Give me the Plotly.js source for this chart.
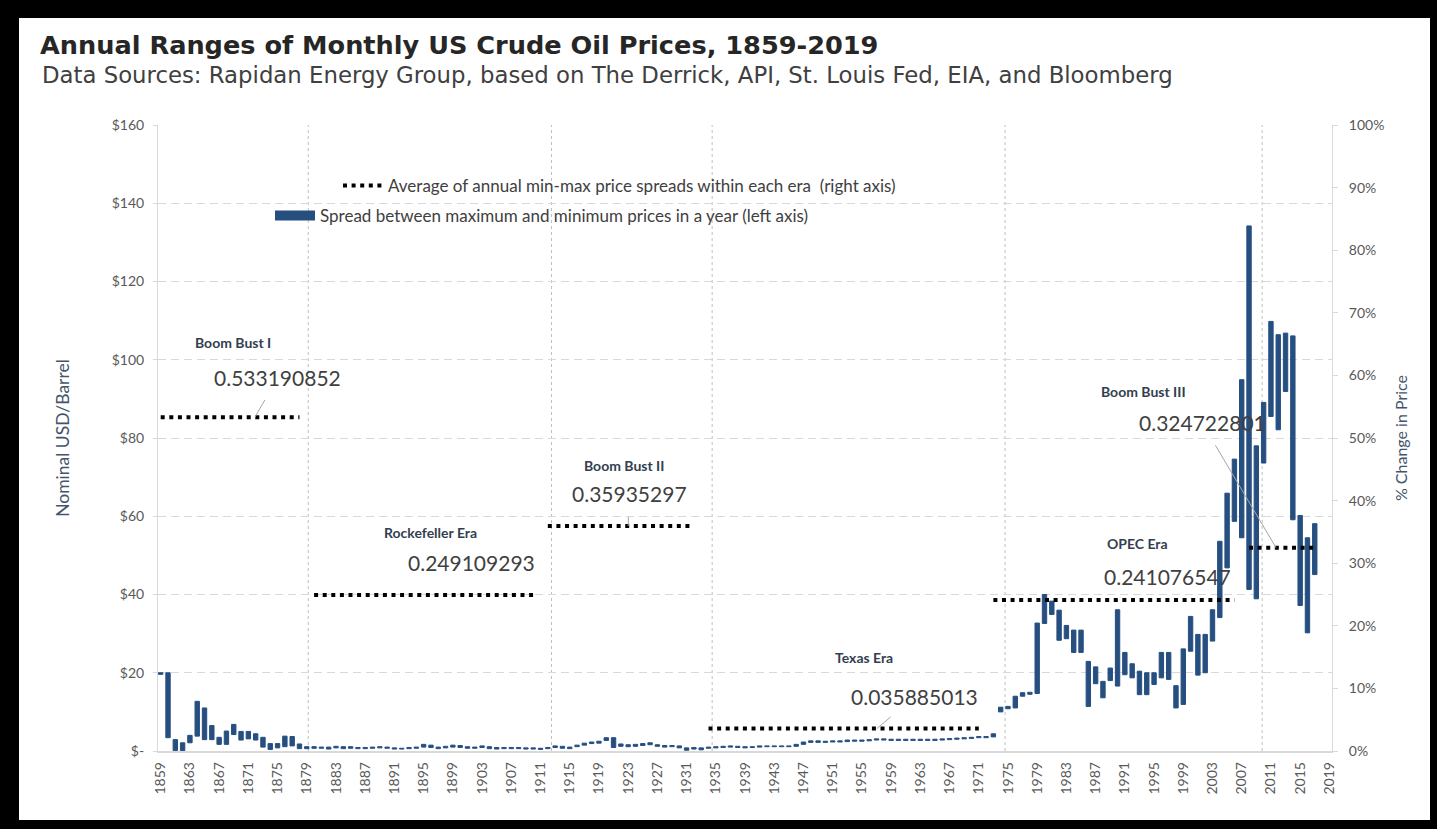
<!DOCTYPE html>
<html><head><meta charset="utf-8">
<script src="https://cdn.plot.ly/plotly-3.0.1.min.js"></script>
<style>
html,body{margin:0;padding:0;background:#000;width:1437px;height:829px;overflow:hidden}
#panel{position:absolute;left:19px;top:18px;width:1411px;height:802px;background:#fff}
#chart{position:absolute;left:0;top:0;width:1437px;height:829px}
</style></head><body>
<div id="panel"></div>
<div id="chart"></div>
<script>
// ---- DATA ----
const years = [
1859,1860,1861,1862,1863,1864,1865,1866,1867,1868,1869,1870,1871,1872,1873,1874,1875,1876,1877,1878,
1879,1880,1881,1882,1883,1884,1885,1886,1887,1888,1889,1890,1891,1892,1893,1894,1895,1896,1897,1898,
1899,1900,1901,1902,1903,1904,1905,1906,1907,1908,1909,1910,1911,1912,1913,1914,1915,1916,1917,1918,
1919,1920,1921,1922,1923,1924,1925,1926,1927,1928,1929,1930,1931,1932,1933,1934,1935,1936,1937,1938,
1939,1940,1941,1942,1943,1944,1945,1946,1947,1948,1949,1950,1951,1952,1953,1954,1955,1956,1957,1958,
1959,1960,1961,1962,1963,1964,1965,1966,1967,1968,1969,1970,1971,1972,1973,1974,1975,1976,1977,1978,
1979,1980,1981,1982,1983,1984,1985,1986,1987,1988,1989,1990,1991,1992,1993,1994,1995,1996,1997,1998,
1999,2000,2001,2002,2003,2004,2005,2006,2007,2008,2009,2010,2011,2012,2013,2014,2015,2016,2017,2018,
2019];

// monthly minimum price within each year (USD/barrel)
const minPrice = [
19.6,3.4,0.1,0.1,2.1,3.8,2.9,2.9,1.7,1.7,4.2,2.8,3.1,2.8,1.0,0.4,0.8,1.1,1.3,0.6,
0.6,0.7,0.7,0.5,0.8,0.6,0.7,0.6,0.6,0.7,0.8,0.7,0.5,0.5,0.6,0.7,1.0,0.9,0.6,0.8,
1.0,0.9,0.7,0.7,0.9,0.6,0.5,0.6,0.6,0.6,0.5,0.5,0.4,0.6,0.9,0.7,0.6,1.1,1.5,1.9,
2.0,2.7,0.9,1.2,1.1,1.2,1.4,1.6,1.2,1.0,1.1,0.8,0.2,0.5,0.3,0.7,0.8,0.9,1.0,0.9,
0.8,0.9,1.0,1.1,1.1,1.1,1.1,1.2,1.7,2.2,2.2,2.2,2.3,2.3,2.4,2.5,2.5,2.6,2.8,2.8,
2.7,2.7,2.7,2.7,2.7,2.7,2.7,2.8,2.9,3.0,3.1,3.2,3.4,3.4,3.6,10.0,10.8,11.0,14.0,14.5,
14.7,32.6,34.9,28.3,28.7,25.2,25.2,11.4,17.2,13.6,18.0,16.6,19.5,18.7,14.4,14.4,17.0,18.7,18.3,11.0,
11.9,25.5,19.4,20.0,28.1,34.1,46.8,58.7,54.5,41.3,38.9,73.6,85.5,82.1,91.9,59.1,37.2,30.2,45.1,null,
null];

// monthly maximum price within each year (USD/barrel)
const maxPrice = [
20.0,20.0,2.9,2.1,4.0,12.7,11.0,6.5,3.5,5.1,6.8,5.0,5.0,4.4,3.5,1.9,1.9,3.8,3.7,1.8,
1.1,1.1,1.0,1.0,1.2,1.1,1.1,0.9,0.9,1.0,1.1,1.0,0.8,0.7,0.9,1.0,1.7,1.5,1.0,1.2,
1.5,1.4,1.1,1.0,1.3,1.1,0.9,0.9,0.9,0.9,0.8,0.8,0.7,0.9,1.3,1.2,1.0,1.5,2.0,2.3,
2.5,3.4,3.4,1.8,1.6,1.7,1.9,2.1,1.6,1.4,1.4,1.3,0.8,0.9,0.8,1.0,1.1,1.2,1.3,1.2,
1.1,1.1,1.3,1.3,1.3,1.3,1.3,1.7,2.3,2.6,2.6,2.5,2.6,2.6,2.8,2.8,2.8,2.9,3.1,3.1,
3.0,3.0,3.0,3.0,3.0,3.0,3.0,3.1,3.2,3.3,3.4,3.5,3.7,3.7,4.4,11.2,11.4,14.0,14.9,15.0,
32.7,40.0,38.3,36.0,32.1,30.9,30.9,22.9,21.5,17.8,21.2,36.1,25.2,22.3,20.4,20.0,20.0,25.2,25.2,16.7,
26.1,34.4,29.8,29.8,36.1,53.6,65.9,74.6,94.9,134.2,78.0,89.1,109.8,106.4,106.8,106.1,60.2,54.5,58.1,null,
null];

// eras: average of annual min-max % spreads (right axis)
const eraNames = ["Boom Bust I","Rockefeller Era","Boom Bust II","Texas Era","OPEC Era","Boom Bust III"];
const eraStart = [1859,1880,1912,1934,1973,2008];
const eraEnd   = [1878,1910,1932,1971,2006,2017];
const eraAvg   = [0.533190852,0.249109293,0.35935297,0.035885013,0.241076547,0.324722801];
const eraDividers = [1879.2,1912.5,1934.5,1974.6,2009.8];

const leftTickVals = [0,20,40,60,80,100,120,140,160];
const leftTickText = ["$-","$20","$40","$60","$80","$100","$120","$140","$160"];
const xTickVals = years.filter((y,i)=> i % 4 === 0);

const seriesBarName = "Spread between maximum and minimum prices in a year (left axis)";
const seriesEraName = "Average of annual min-max price spreads within each era  (right axis)";

// ---- TRACES ----
const BLUE = '#264F80';
const FONT = 'Lato, "Open Sans", sans-serif';
const spread = maxPrice.map((v,i)=> (v==null||minPrice[i]==null) ? null : +(v - minPrice[i]).toFixed(2));

const traces = [];
traces.push({
  type:'bar', x: years, y: spread, base: minPrice, name: seriesBarName,
  marker:{color: BLUE, line:{color: BLUE, width:1}}, width: 0.6,
  showlegend:false, hoverinfo:'x+y'
});
// legend key for the bar series (same colour, drawn as a wide flat key like the original)
traces.push({
  type:'scatter', mode:'lines', x:[null], y:[null], name: seriesBarName,
  line:{color: BLUE, width:10}, legend:'legend2', showlegend:true, hoverinfo:'skip'
});
eraNames.forEach((n,i)=>{
  traces.push({
    type:'scatter', mode:'lines', x:[eraStart[i], eraEnd[i]], y:[eraAvg[i], eraAvg[i]],
    yaxis:'y2', name: seriesEraName, legendgroup:'era', showlegend: i===0,
    line:{color:'#000', width:4, dash:'4px,4.6px'}, hoverinfo:'skip'
  });
});

// ---- ANNOTATIONS ----
const nameLayout = [
  {x:1868.9, y:0.652},{x:1896.0, y:0.349},{x:1922.4, y:0.456},
  {x:1955.3, y:0.149},{x:1992.7, y:0.331},{x:1993.5, y:0.574}
];
const valueLayout = [
  {hx:1871.9, ax:23, ay:-40, arrow:true},
  {hx:1901.6, ax:0, ay:-33, arrow:false},
  {hx:1923.0, ax:1, ay:-33, arrow:true},
  {hx:1957.05, ax:38, ay:-32, arrow:true},
  {hx:1995.8, ax:8, ay:-24, arrow:true},
  {hx:2011.7, ax:-74, ay:-125, arrow:true}
];
const annotations = [];
eraNames.forEach((n,i)=>{
  annotations.push({text:'<b>'+n+'</b>', x:nameLayout[i].x, y:nameLayout[i].y, xref:'x', yref:'y2',
    showarrow:false, font:{family:FONT, size:14, color:'#333F50'}});
  const v = valueLayout[i];
  annotations.push({text:String(eraAvg[i]), x:v.hx, y:eraAvg[i], xref:'x', yref:'y2',
    showarrow:true, arrowhead:0, arrowwidth:1, arrowcolor: v.arrow ? '#A6A6A6' : 'rgba(0,0,0,0)',
    ax:v.ax, ay:v.ay, startstandoff:10, standoff:0,
    font:{family:FONT, size:21, color:'#404040'}});
});
annotations.push({text:'Data Sources: Rapidan Energy Group, based on The Derrick, API, St. Louis Fed, EIA, and Bloomberg',
  xref:'paper', yref:'paper', x:-0.1005, y:1.0798, xanchor:'left', yanchor:'middle', showarrow:false,
  font:{family:'"DejaVu Sans", sans-serif', size:22.8, color:'#404040'}});

const shapes = eraDividers.map(d=>({type:'line', xref:'x', yref:'paper', x0:d, x1:d, y0:0, y1:1,
  line:{color:'#BFBFBF', width:1, dash:'dot'}, layer:'below'}));

const layout = {
  width:1437, height:829,
  margin:{l:158, r:105, t:125, b:77.5, pad:0},
  paper_bgcolor:'rgba(0,0,0,0)', plot_bgcolor:'rgba(0,0,0,0)',
  title:{text:'<b>Annual Ranges of Monthly US Crude Oil Prices, 1859-2019</b>', x:40/1437, xref:'container', xanchor:'left',
    y:1-45/829, yref:'container', yanchor:'middle', font:{family:'"DejaVu Sans", sans-serif', size:25.6, color:'#262626'}},
  font:{family:FONT, color:'#595959'},
  bargap:0,
  xaxis:{type:'linear', range:[1858.63, 2019.36], tickvals:xTickVals, ticktext:xTickVals.map(String), tickangle:-90,
    showgrid:false, zeroline:false, showline:true, linecolor:'#D9D9D9', linewidth:1.5, ticks:'', ticklabelstandoff:4,
    tickfont:{family:FONT, size:14, color:'#595959'}},
  yaxis:{range:[0,160], tickvals:leftTickVals, ticktext:leftTickText, showgrid:true, gridcolor:'#D9D9D9',
    griddash:'8px,5px', gridwidth:1, zeroline:false, showline:true, linecolor:'#D9D9D9', linewidth:1,
    ticks:'outside', ticklen:4, tickcolor:'#D9D9D9', ticklabelstandoff:6,
    tickfont:{family:FONT, size:14, color:'#595959'},
    title:{text:'Nominal USD/Barrel', standoff:37, font:{family:FONT, size:17.5, color:'#44546A'}}},
  yaxis2:{range:[0,1], overlaying:'y', side:'right', tickformat:'.0%', dtick:0.1, showgrid:false, zeroline:false,
    showline:true, linecolor:'#D9D9D9', linewidth:1, ticks:'outside', ticklen:5, tickcolor:'#D9D9D9', ticklabelstandoff:8,
    tickfont:{family:FONT, size:14, color:'#595959'},
    title:{text:'% Change in Price', standoff:12, font:{family:FONT, size:16, color:'#44546A'}}},
  legend:{x:(338-158)/1174, y:(751.5-186)/626.5, xanchor:'left', yanchor:'middle', bgcolor:'rgba(0,0,0,0)',
    font:{family:FONT, size:17, color:'#404040'}, itemwidth:40, tracegroupgap:0},
  legend2:{x:(270-158)/1174, y:(751.5-216)/626.5, xanchor:'left', yanchor:'middle', bgcolor:'rgba(0,0,0,0)',
    font:{family:FONT, size:17, color:'#404040'}, itemwidth:40},
  annotations, shapes, showlegend:true
};

Plotly.newPlot('chart', traces, layout, {displayModeBar:false, staticPlot:true});
</script>
</body></html>
